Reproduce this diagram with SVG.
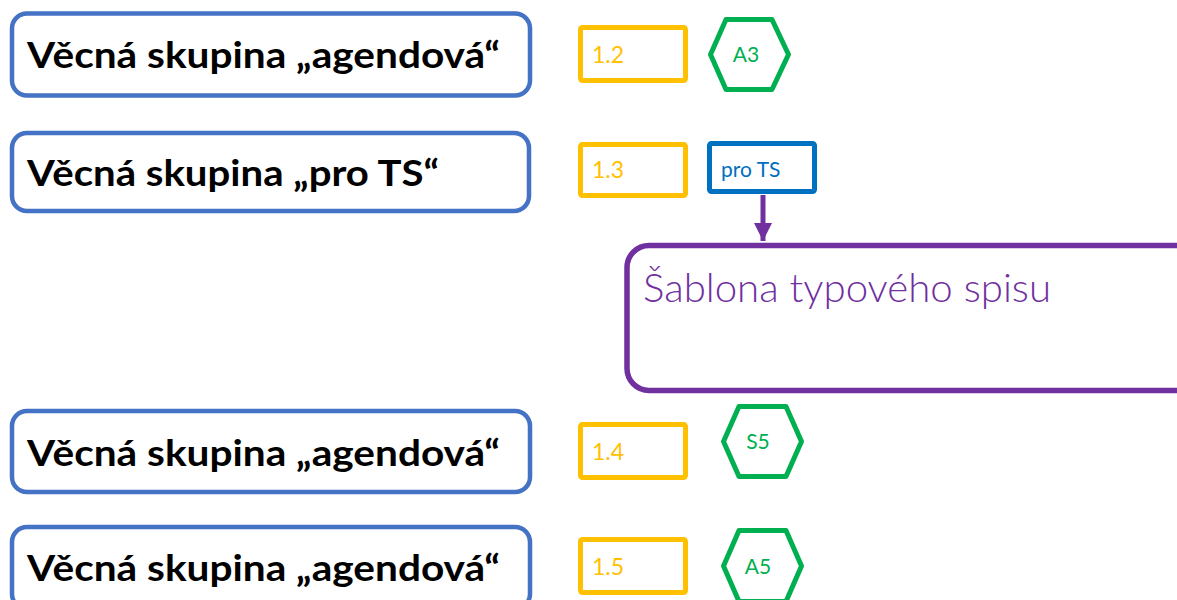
<svg xmlns="http://www.w3.org/2000/svg" width="1177" height="600" viewBox="0 0 1177 600">
  <style>
    .group { fill: #ffffff; stroke: #4472C4; stroke-width: 4.5; }
    .group-label { font-family: Lato, "Open Sans", "Liberation Sans", sans-serif; font-weight: 700; font-size: 37px; fill: #000000; }
    .code { fill: #ffffff; stroke: #FFC000; stroke-width: 5; stroke-linejoin: round; }
    .code-label { font-family: Lato, "Open Sans", "Liberation Sans", sans-serif; font-size: 23px; fill: #FFC000; }
    .hex { fill: #ffffff; stroke: #00B050; stroke-width: 5; stroke-linejoin: round; }
    .hex-label { font-family: Lato, "Open Sans", "Liberation Sans", sans-serif; font-size: 21px; fill: #00B050; text-anchor: middle; }
    .tag { fill: #ffffff; stroke: #0070C0; stroke-width: 5; stroke-linejoin: round; }
    .tag-label { font-family: Lato, "Open Sans", "Liberation Sans", sans-serif; font-size: 21px; fill: #0070C0; }
    .template { fill: #ffffff; stroke: #7030A0; stroke-width: 5.5; }
    .template-label { font-family: Lato, "Open Sans", "Liberation Sans", sans-serif; font-weight: 300; font-size: 40px; fill: #7030A0; }
    .link { stroke: #7030A0; stroke-width: 5; fill: none; }
  </style>
  <defs>
    <marker id="arrow" viewBox="0 0 10 10" refX="10" refY="5" markerWidth="3.6" markerHeight="3.6" markerUnits="strokeWidth" orient="auto">
      <path d="M0,0 L10,5 L0,10 Z" fill="#7030A0"/>
    </marker>
  </defs>

  <rect width="1177" height="600" fill="#ffffff"/>

  <!-- connectors -->
  <g id="connectors">
    <line class="link" x1="763" y1="195" x2="763" y2="241" marker-end="url(#arrow)"/>
  </g>

  <!-- row 1 -->
  <g id="group-1">
    <rect class="group" x="12" y="13.5" width="518" height="82" rx="15"/>
    <text class="group-label" x="27" y="68" textLength="473" lengthAdjust="spacingAndGlyphs">Věcná skupina „agendová“</text>
  </g>
  <g id="code-1-2">
    <rect class="code" x="580.5" y="27.5" width="105" height="53" rx="2"/>
    <text class="code-label" x="592" y="63">1.2</text>
  </g>
  <g id="hex-a3">
    <path class="hex" d="M710.5,54.5 L726,19.5 L772,19.5 L788.5,54.5 L772,89.5 L726,89.5 Z"/>
    <text class="hex-label" x="746" y="62">A3</text>
  </g>

  <!-- row 2 -->
  <g id="group-2">
    <rect class="group" x="12" y="133" width="517" height="78" rx="15"/>
    <text class="group-label" x="27" y="186" textLength="412" lengthAdjust="spacingAndGlyphs">Věcná skupina „pro TS“</text>
  </g>
  <g id="code-1-3">
    <rect class="code" x="580.5" y="144.5" width="105" height="51" rx="2"/>
    <text class="code-label" x="592" y="178">1.3</text>
  </g>
  <g id="tag-pro-ts">
    <rect class="tag" x="709.5" y="143.5" width="105" height="48" rx="2"/>
    <text class="tag-label" x="721" y="177">pro TS</text>
  </g>

  <!-- template -->
  <g id="template">
    <rect class="template" x="627" y="245.5" width="580" height="145" rx="22"/>
    <text class="template-label" x="643" y="302" textLength="408" lengthAdjust="spacingAndGlyphs">Šablona typového spisu</text>
  </g>

  <!-- row 3 -->
  <g id="group-3">
    <rect class="group" x="12" y="411" width="518" height="81" rx="15"/>
    <text class="group-label" x="27" y="466" textLength="473" lengthAdjust="spacingAndGlyphs">Věcná skupina „agendová“</text>
  </g>
  <g id="code-1-4">
    <rect class="code" x="580.5" y="424.5" width="105" height="53" rx="2"/>
    <text class="code-label" x="592" y="460">1.4</text>
  </g>
  <g id="hex-s5">
    <path class="hex" d="M723.5,441.5 L739,406.5 L786,406.5 L801.5,441.5 L786,476.5 L739,476.5 Z"/>
    <text class="hex-label" x="758" y="449">S5</text>
  </g>

  <!-- row 4 -->
  <g id="group-4">
    <rect class="group" x="12" y="527" width="518" height="82" rx="15"/>
    <text class="group-label" x="27" y="581" textLength="473" lengthAdjust="spacingAndGlyphs">Věcná skupina „agendová“</text>
  </g>
  <g id="code-1-5">
    <rect class="code" x="580.5" y="539.5" width="105" height="53" rx="2"/>
    <text class="code-label" x="592" y="575">1.5</text>
  </g>
  <g id="hex-a5">
    <path class="hex" d="M723.5,566 L739,530.5 L786,530.5 L801.5,566 L786,601.5 L739,601.5 Z"/>
    <text class="hex-label" x="758" y="574">A5</text>
  </g>
</svg>
